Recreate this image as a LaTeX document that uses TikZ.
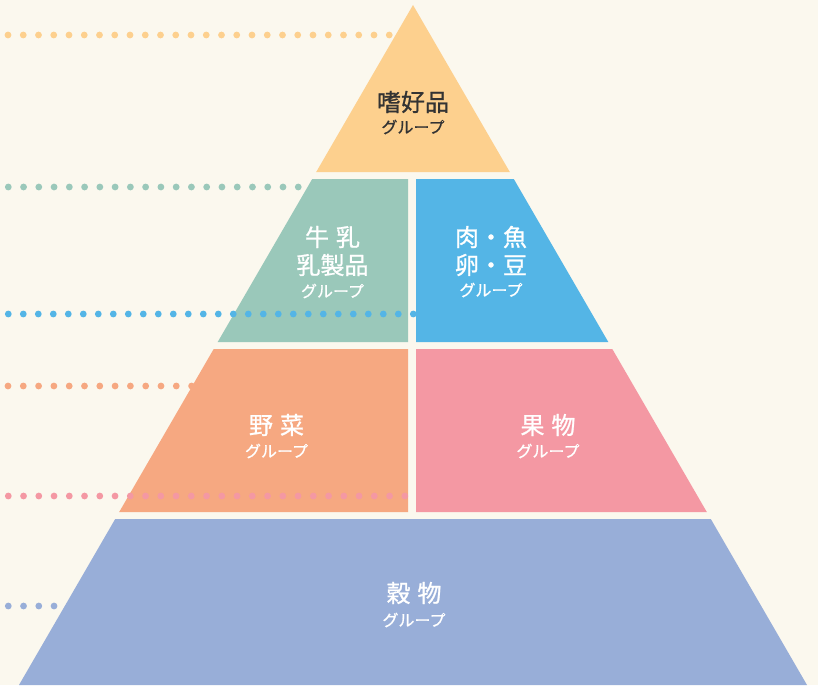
\documentclass[tikz,border=0pt]{standalone}
\usepackage{fontspec}
\setmainfont{Noto Sans CJK JP}
\newfontfamily\labelfont{Noto Sans CJK JP}[FakeBold=0.9]
\usepackage{xcolor}
\usetikzlibrary{positioning}

\definecolor{bgcream}{HTML}{FBF8EE}
\definecolor{treatcol}{HTML}{FDD08E}
\definecolor{milkcol}{HTML}{9AC8BA}
\definecolor{meatcol}{HTML}{54B5E6}
\definecolor{vegcol}{HTML}{F6A881}
\definecolor{fruitcol}{HTML}{F498A3}
\definecolor{graincol}{HTML}{98AED8}
\definecolor{darktext}{HTML}{333333}

\begin{document}
\begin{tikzpicture}[x=1pt,y=-1pt,
    foodname/.style={inner sep=0pt, text=white, font=\labelfont\fontsize{24}{24}\selectfont},
    grp/.style={inner sep=0pt, text=white, font=\labelfont\fontsize{16}{16}\selectfont}]
  \fill[bgcream] (0,0) rectangle (818,685);

  % dotted line behind the vegetable tier
  \foreach \i in {0,...,12}
    \fill[vegcol] ({8+15.3*\i},386) circle (3.4pt);

  % tiers
  \fill[treatcol] (413,5) -- (509.8,172) -- (316.2,172) -- cycle;
  \fill[milkcol] (312.2,179) -- (408,179) -- (408,342) -- (217.7,342) -- cycle;
  \fill[meatcol] (416,179) -- (513.8,179) -- (608.3,342) -- (416,342) -- cycle;
  \fill[vegcol] (213.7,349) -- (408,349) -- (408,512) -- (119.2,512) -- cycle;
  \fill[fruitcol] (416,349) -- (612.3,349) -- (706.8,512) -- (416,512) -- cycle;
  \fill[graincol] (115.2,519) -- (710.8,519) -- (807,685) -- (19,685) -- cycle;

  % dotted lines
  \foreach \i in {0,...,25}
    \fill[treatcol] ({8+15.25*\i},35) circle (3.4pt);
  \foreach \i in {0,...,19}
    \fill[milkcol] ({8.3+15.26*\i},187) circle (3.4pt);
  \foreach \i in {0,...,27}
    \fill[meatcol] ({8.3+15*\i},314) circle (3.4pt);
  \foreach \i in {0,...,26}
    \fill[fruitcol] ({8.3+15.25*\i},496) circle (3.4pt);
  \foreach \i in {0,...,3}
    \fill[graincol] ({8.3+15.25*\i},606) circle (3.4pt);

  % labels
  \node[foodname, text=darktext] (treat) at (413,102) {嗜好品};
  \node[grp, text=darktext] (treatg) at (413,127) {グループ};

  \node[foodname] (milk) at (332.5,237) {牛\hspace{7pt}乳};
  \node[foodname] (dairy) at (332.5,265) {乳製品};
  \node[grp] (milkg) at (332.5,291) {グループ};

  \node[foodname] (meat) at (491,237) {肉・魚};
  \node[foodname] (egg) at (491,265) {卵・豆};
  \node[grp] (meatg) at (491,290) {グループ};

  \node[foodname] (veg) at (276.5,425) {野\hspace{7pt}菜};
  \node[grp] (vegg) at (276.5,451) {グループ};

  \node[foodname] (fruit) at (548,425) {果\hspace{7pt}物};
  \node[grp] (fruitg) at (548,451) {グループ};

  \node[foodname] (grain) at (414,593) {穀\hspace{7pt}物};
  \node[grp] (graing) at (414,620) {グループ};
\end{tikzpicture}
\end{document}
